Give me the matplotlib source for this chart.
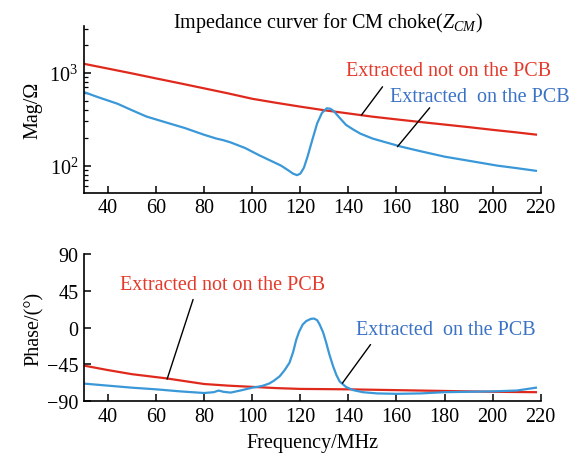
import numpy as np
import matplotlib
matplotlib.use("Agg")
import matplotlib.pyplot as plt
from matplotlib.ticker import LogLocator, NullFormatter

plt.rcParams['font.family'] = ['Liberation Serif', 'DejaVu Serif']
plt.rcParams['mathtext.fontset'] = 'custom'
plt.rcParams['mathtext.rm'] = 'Liberation Serif'
plt.rcParams['mathtext.it'] = 'Liberation Serif:italic'

# === DATA ===
# magnitude, extracted not on the PCB (red)
f_mag_red = [30, 40, 50, 60, 70, 80, 90, 100, 110, 120, 130, 140, 150, 160, 170, 180, 190, 200, 210, 218]
mag_red = [1250, 1110, 985, 870, 770, 680, 600, 525, 475, 432, 395, 365, 337, 315, 295, 277, 260, 243, 228, 216]

# magnitude, extracted on the PCB (blue)
f_mag_blue = [30, 36, 44, 50, 56, 63, 72, 80, 85, 88, 91, 97, 103, 108, 112, 115, 117, 118.6, 120,
              121.5, 123, 125, 127, 129, 131, 132.5, 134, 136, 139, 142, 145, 150, 155, 162, 170,
              180, 190, 202, 210, 218]
mag_blue = [620, 545, 464, 395, 338, 298, 254, 215, 196, 188, 178, 155, 129, 112, 100, 89, 82, 79, 82,
            95, 125, 190, 285, 370, 415, 410, 385, 335, 275, 245, 221, 196, 180, 160, 143,
            125, 113, 100, 94, 88]

# phase, extracted not on the PCB (red)
f_ph_red = [30, 40, 50, 64, 80, 90, 100, 110, 120, 140, 160, 180, 200, 218]
ph_red = [-46.5, -52, -57, -62, -69, -71, -72.5, -74, -75, -75.5, -76.5, -77.5, -78.5, -79]

# phase, extracted on the PCB (blue)
f_ph_blue = [30, 40, 50, 60, 70, 80, 84, 86, 88, 91, 95, 100, 104, 107, 109, 111.4, 113.5, 115.5,
             117, 118.3, 119.5, 121, 122.5, 124.4, 125.7, 127, 128, 129.5, 130.8, 132, 133.6, 135,
             136.4, 139, 142, 146, 152, 160, 170, 180, 190, 200, 210, 218]
ph_blue = [-68.5, -71, -73.5, -75.5, -78, -80, -79, -77, -78.5, -79.5, -77, -73.5, -71.5, -68.5, -65,
           -59.6, -52, -43, -30, -15, -5, 3.7, 8, 10.6, 11, 9, 4, -6, -18.8, -32, -47, -58,
           -66, -72.6, -76.5, -79, -80.5, -81, -80.5, -79, -78.5, -78, -77, -73.5]

x_ticks = [40, 60, 80, 100, 120, 140, 160, 180, 200, 220]
ph_ticks = [90, 45, 0, -45, -90]

RED = '#e0291d'
BLUE = '#3a98d8'
RED_TXT = '#e43a2b'
BLUE_TXT = '#3b72c6'
FS = 14.5

fig = plt.figure(figsize=(5.71, 4.56), dpi=100, facecolor='white')
ax1 = fig.add_axes([0.147, 0.575, 0.800, 0.366])
ax2 = fig.add_axes([0.147, 0.118, 0.800, 0.323])

for ax in (ax1, ax2):
    ax.spines['top'].set_visible(False)
    ax.spines['right'].set_visible(False)
    ax.spines['left'].set_linewidth(1.2)
    ax.spines['bottom'].set_linewidth(1.2)
    ax.tick_params(direction='in', length=5, width=1.1, labelsize=FS, pad=4)
    ax.tick_params(which='minor', direction='in', length=3, width=0.9)
    ax.set_xlim(30, 220)
    ax.set_xticks(x_ticks)

# --- magnitud ---
ax1.plot(f_mag_red, mag_red, color=RED, lw=1.6)
ax1.plot(f_mag_blue, mag_blue, color=BLUE, lw=1.6)
ax1.set_yscale('log')
ax1.set_ylim(51, 3200)
ax1.yaxis.set_major_locator(LogLocator(base=10, numticks=10))
ax1.yaxis.set_minor_locator(LogLocator(base=10, subs=np.arange(2, 10), numticks=10))
ax1.yaxis.set_minor_formatter(NullFormatter())
ax1.set_ylabel('Mag/Ω', fontsize=FS, labelpad=5)

ax1.text(139.2, 1050, 'Extracted not on the PCB', color=RED_TXT, fontsize=FS, ha='left', va='center')
ax1.text(157.5, 552, 'Extracted  on the PCB', color=BLUE_TXT, fontsize=FS, ha='left', va='center')
ax1.annotate('', xy=(145.4, 350), xytext=(154.2, 707),
             arrowprops=dict(arrowstyle='-', color='black', lw=1.0, shrinkA=0, shrinkB=0))
ax1.annotate('', xy=(160.4, 160), xytext=(173.8, 420),
             arrowprops=dict(arrowstyle='-', color='black', lw=1.0, shrinkA=0, shrinkB=0))

# --- fase ---
ax2.plot(f_ph_red, ph_red, color=RED, lw=1.6)
ax2.plot(f_ph_blue, ph_blue, color=BLUE, lw=1.6)
ax2.set_ylim(-90, 90)
ax2.set_yticks(ph_ticks)
ax2.set_ylabel('Phase/(°)', fontsize=FS, labelpad=2)
ax2.set_xlabel('Frequency/MHz', fontsize=FS, labelpad=5)

ax2.text(45, 52.6, 'Extracted not on the PCB', color=RED_TXT, fontsize=FS, ha='left', va='center')
ax2.text(143.3, -2.4, 'Extracted  on the PCB', color=BLUE_TXT, fontsize=FS, ha='left', va='center')
ax2.annotate('', xy=(64.6, -63), xytext=(75.4, 34.3),
             arrowprops=dict(arrowstyle='-', color='black', lw=1.0, shrinkA=0, shrinkB=0))
ax2.annotate('', xy=(137.5, -68), xytext=(149.2, -20.8),
             arrowprops=dict(arrowstyle='-', color='black', lw=1.0, shrinkA=0, shrinkB=0))

fig.text(328 / 571, 1 - 23 / 456, r'Impedance curver for CM choke($Z_{CM}$)',
         fontsize=FS, ha='center', va='center')

fig.savefig('out.png', dpi=100, facecolor='white')
